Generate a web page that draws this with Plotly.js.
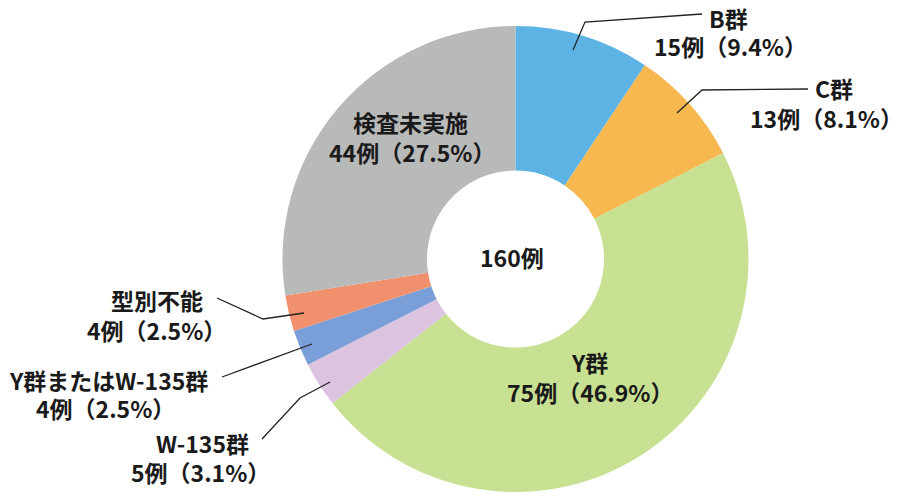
<!DOCTYPE html>
<html><head><meta charset="utf-8">
<script src="https://cdn.plot.ly/plotly-3.0.1.min.js"></script>
<style>html,body{margin:0;padding:0;background:#fff;}#chart{width:906px;height:500px;}</style>
</head><body><div id="chart"></div>
<script>
const categories = ["B群", "C群", "Y群", "W-135群", "Y群またはW-135群", "型別不能", "検査未実施"];
const counts = [15, 13, 75, 5, 4, 4, 44];
const percents = ["9.4%", "8.1%", "46.9%", "3.1%", "2.5%", "2.5%", "27.5%"];
const total = 160;
const colors = ["#5db3e4", "#f6b84f", "#c8e092", "#dcc3df", "#7a9fd8", "#f1906d", "#b8b9b9"];

// label line centres (pixels): [name line, count line]
const labelPos = [
  [[728, 18], [730, 46]],
  [[834, 88], [826, 118]],
  [[589, 362], [590, 392]],
  [[202, 443], [200, 472]],
  [[108, 380], [105, 408]],
  [[157, 300], [156, 330]],
  [[410, 122], [412, 152]]
];
const leaders = [
  [[573, 50], [585, 22], [702, 14]],
  [[677, 113], [702, 90], [808, 89]],
  null,
  [[330, 382], [300, 398], [262, 439]],
  [[312, 344], [222, 377]],
  [[304, 313], [263, 319], [217, 298]],
  null
];

const W = 906, H = 500;
const px = x => x / W, py = y => 1 - y / H;
const font = {family: "'Noto Sans CJK JP', 'Noto Sans', sans-serif", size: 23, color: "#1a1a1a", weight: "bold"};

const annotations = [];
categories.forEach((c, i) => {
  const lines = [c, counts[i] + "例（" + percents[i] + "）"];
  lines.forEach((t, k) => annotations.push({
    xref: "paper", yref: "paper", x: px(labelPos[i][k][0]), y: py(labelPos[i][k][1]),
    xanchor: "center", yanchor: "middle", showarrow: false, text: t, font: font
  }));
});
annotations.push({xref: "paper", yref: "paper", x: px(512), y: py(257), xanchor: "center", yanchor: "middle",
  showarrow: false, text: total + "例", font: font});

const shapes = leaders.filter(l => l).map(l => ({
  type: "path", xref: "paper", yref: "paper",
  path: l.map((p, j) => (j ? "L" : "M") + px(p[0]) + "," + py(p[1])).join(" "),
  line: {color: "#222", width: 1.3}
}));

const trace = {
  type: "pie", labels: categories, values: counts, sort: false, direction: "clockwise", rotation: 0,
  hole: 0.38, textinfo: "none", hoverinfo: "label+value+percent",
  marker: {colors: colors, line: {width: 0}},
  domain: {x: [px(515.5 - 233), px(515.5 + 233)], y: [py(492), py(26)]},
  showlegend: false
};

Plotly.newPlot("chart", [trace], {
  width: W, height: H, margin: {l: 0, r: 0, t: 0, b: 0},
  paper_bgcolor: "#fff", annotations: annotations, shapes: shapes, showlegend: false
}, {displayModeBar: false, staticPlot: true});
</script></body></html>
